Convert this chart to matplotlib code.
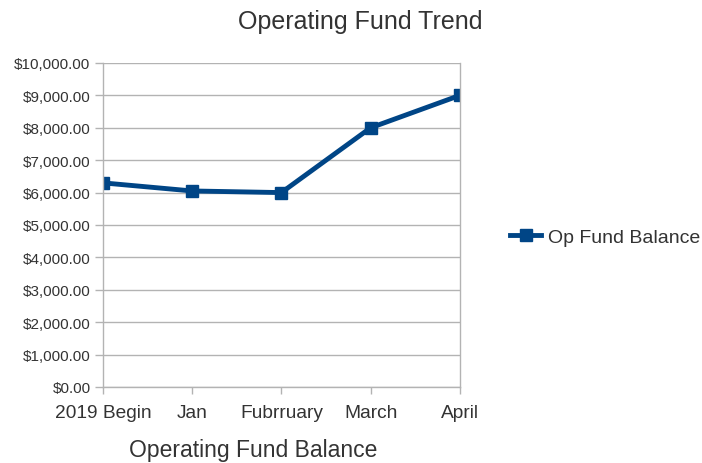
import matplotlib.pyplot as plt
from matplotlib.ticker import FuncFormatter

plt.rcParams['font.family'] = ['Liberation Sans', 'DejaVu Sans']

# 数据
categories = ['2019 Begin', 'Jan', 'Fubrruary', 'March', 'April']
balance = [6300, 6050, 6000, 8000, 9000]
yticks = list(range(0, 10001, 1000))

line_color = '#004586'
text_color = '#333333'
grid_color = '#b3b3b3'

fig = plt.figure(figsize=(7.02, 4.64), dpi=100)
ax = fig.add_axes([0.1467, 0.1638, 0.5083, 0.6983])

x = list(range(len(categories)))
ax.plot(x, balance, color=line_color, linewidth=3.5, marker='s', markersize=9,
        label='Op Fund Balance')

ax.set_xlim(0, len(categories) - 1)
ax.set_ylim(0, 10000)
ax.set_yticks(yticks)
ax.yaxis.set_major_formatter(FuncFormatter(lambda v, p: '${:,.2f}'.format(v)))
ax.set_xticks(x)
ax.set_xticklabels(categories)

# 网格和边框
ax.grid(axis='y', color=grid_color, linewidth=1)
for s in ax.spines.values():
    s.set_color(grid_color)
    s.set_linewidth(1)
ax.spines['top'].set_visible(False)
ax.tick_params(axis='y', colors=grid_color, labelcolor=text_color, labelsize=11,
               length=6, width=1, pad=3)
ax.tick_params(axis='x', colors=grid_color, labelcolor=text_color, labelsize=13.8,
               length=5, width=1, pad=7)
ax.set_axisbelow(True)

# 标题和标签
fig.text(0.513, 0.952, 'Operating Fund Trend', ha='center', va='center',
         fontsize=18, color=text_color)
fig.text(0.36, 0.03, 'Operating Fund Balance', ha='center', va='center',
         fontsize=16.5, color=text_color)

fig.legend(loc='center left', bbox_to_anchor=(0.727, 0.487), frameon=False,
           borderpad=0, borderaxespad=0, fontsize=14, handlelength=1.6,
           handletextpad=0.35, labelcolor=text_color)

plt.savefig('out.png', dpi=100)
